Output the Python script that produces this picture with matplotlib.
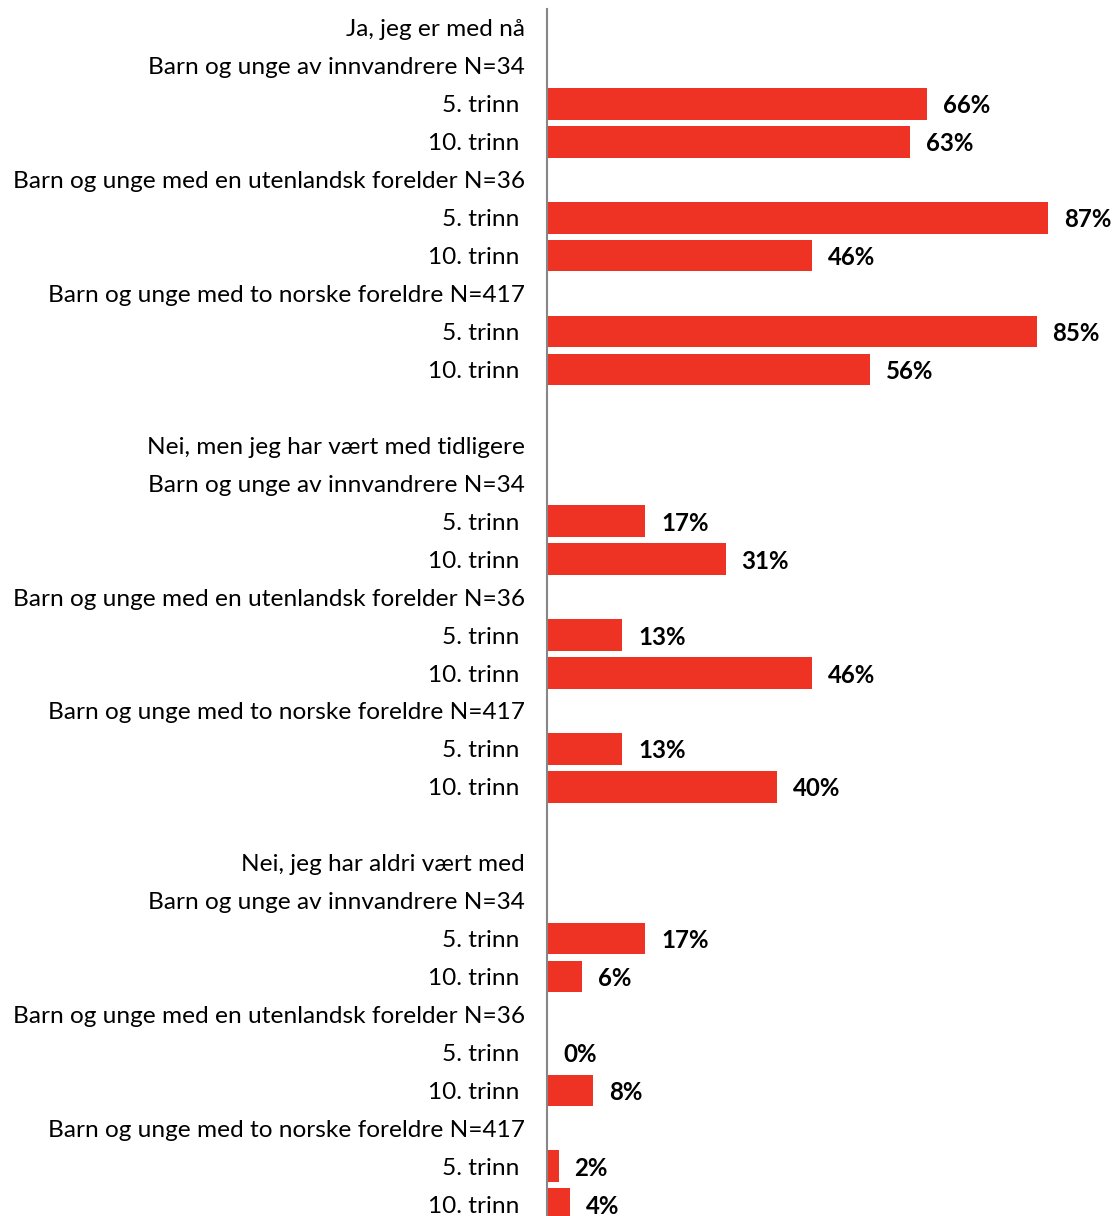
import matplotlib
matplotlib.use("Agg")
import matplotlib.pyplot as plt

groups = ["Ja, jeg er med nå", "Nei, men jeg har vært med tidligere", "Nei, jeg har aldri vært med"]
subgroups = ["Barn og unge av innvandrere N=34",
             "Barn og unge med en utenlandsk forelder N=36",
             "Barn og unge med to norske foreldre N=417"]
grades = ["5. trinn", "10. trinn"]
values_ja = [66, 63, 87, 46, 85, 56]
values_tidligere = [17, 31, 13, 46, 13, 40]
values_aldri = [17, 6, 0, 8, 2, 4]
all_values = [values_ja, values_tidligere, values_aldri]

plt.rcParams['font.family'] = ['Lato', 'DejaVu Sans']

W, H = 1117, 1216
fig = plt.figure(figsize=(W / 100, H / 100), dpi=100)
left_px = 547
top_px = 9
ax = fig.add_axes([left_px / W, 0, 1 - left_px / W, (H - top_px) / H])

bar_color = '#EE3325'
fs = 17.6
fs_bold = 17.3

row = 0
for g, vals in zip(groups, all_values):
    ax.annotate(g, xy=(0, row), xycoords=('axes fraction', 'data'),
                xytext=(-22, 0), textcoords='offset pixels',
                ha='right', va='center_baseline', fontsize=fs, color='#000000')
    row += 1
    for si, sg in enumerate(subgroups):
        ax.annotate(sg, xy=(0, row), xycoords=('axes fraction', 'data'),
                    xytext=(-22, 0), textcoords='offset pixels',
                    ha='right', va='center_baseline', fontsize=fs, color='#000000')
        row += 1
        for gi, gr in enumerate(grades):
            v = vals[si * 2 + gi]
            ax.barh(row, v, height=0.835, color=bar_color)
            ax.annotate(gr, xy=(0, row), xycoords=('axes fraction', 'data'),
                        xytext=(-28, 0), textcoords='offset pixels',
                        ha='right', va='center_baseline', fontsize=fs, color='#000000')
            ax.annotate(f"{v}%", xy=(v, row), xycoords='data',
                        xytext=(16, 0), textcoords='offset pixels',
                        ha='left', va='center_baseline', fontsize=fs_bold, fontweight='bold',
                        color='#000000')
            row += 1
    row += 1  # blank row between groups

ax.set_xlim(0, 98.96)
ax.set_ylim(31.31, -0.5)
for s in ['top', 'right', 'bottom']:
    ax.spines[s].set_visible(False)
ax.spines['left'].set_color('#868686')
ax.spines['left'].set_linewidth(1.5)
ax.set_xticks([])
ax.set_yticks([])
ax.patch.set_alpha(0)

fig.savefig("out.png", dpi=100)
